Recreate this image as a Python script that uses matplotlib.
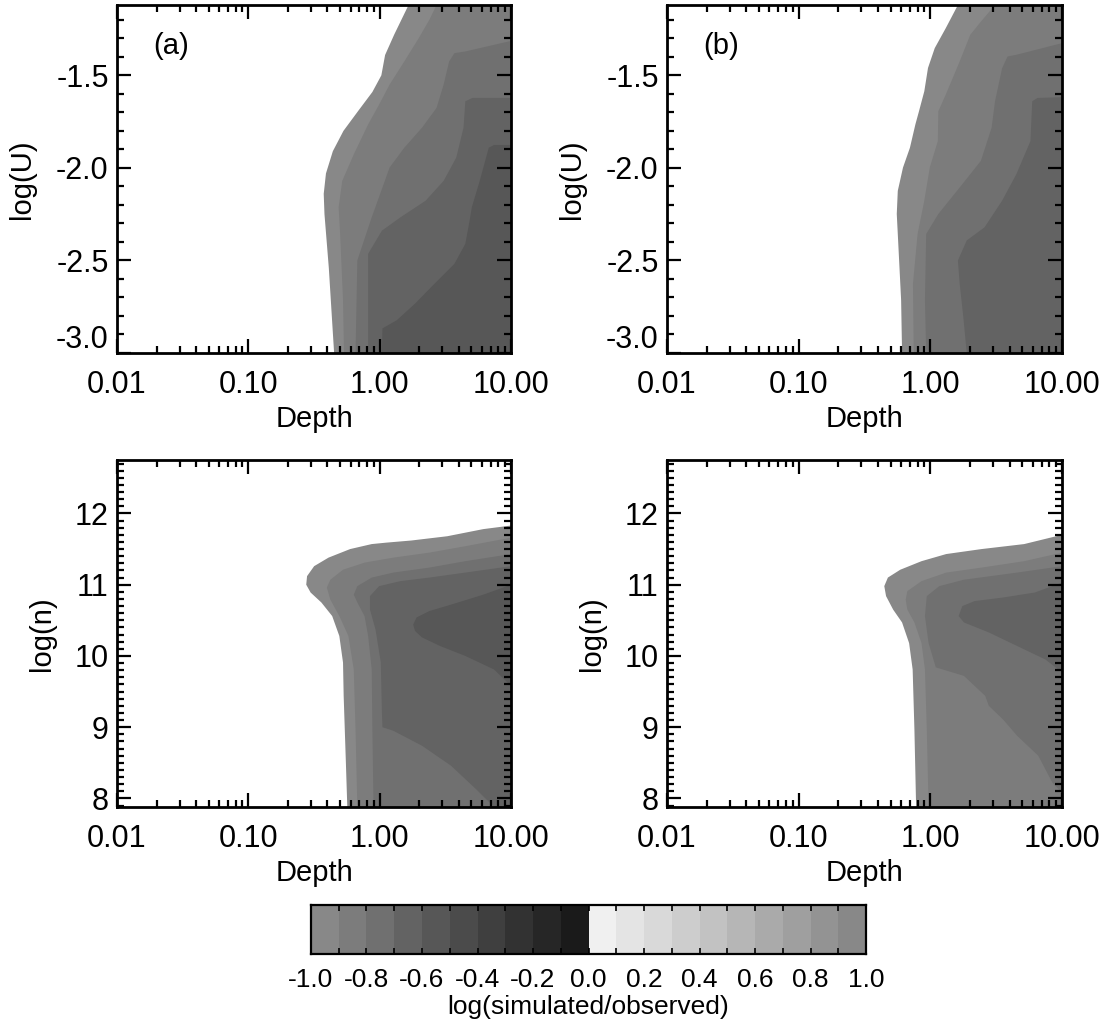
import numpy as np
import matplotlib
matplotlib.use('Agg')
import matplotlib.pyplot as plt
import matplotlib.transforms as mtransforms
from matplotlib.colors import ListedColormap, BoundaryNorm
from matplotlib.ticker import MultipleLocator, LogLocator, NullFormatter

plt.rcParams['font.family'] = ['Liberation Sans', 'DejaVu Sans']

# Шкала цветов: 20 интервалов от -1 до 1
cbar_edges = [-1.0, -0.9, -0.8, -0.7, -0.6, -0.5, -0.4, -0.3, -0.2, -0.1, 0.0,
              0.1, 0.2, 0.3, 0.4, 0.5, 0.6, 0.7, 0.8, 0.9, 1.0]
grey_neg = [136, 124, 112, 99, 87, 75, 63, 50, 38, 26]
grey_pos = [240, 228, 217, 205, 194, 182, 170, 159, 147, 136]
cbar_ticks = [-1.0, -0.8, -0.6, -0.4, -0.2, 0.0, 0.2, 0.4, 0.6, 0.8, 1.0]

# Границы заливок (глубина, параметр), снаружи внутрь
a_depth = [
    [0.45, 0.44, 0.41, 0.38, 0.375, 0.39, 0.44, 0.53, 0.69, 0.88, 1.03, 1.10, 1.29, 1.66],
    [0.535, 0.526, 0.50, 0.487, 0.519, 0.635, 0.817, 0.99, 1.19, 1.54, 1.98, 2.39, 2.71],
    [0.655, 0.676, 0.87, 1.05, 1.19, 1.54, 2.1, 2.71, 3.07, 3.38, 3.71, 4.49, 10.0],
    [0.817, 0.817, 1.04, 1.44, 2.24, 3.07, 3.83, 4.35, 4.49, 5.09, 10.0],
    [1.04, 1.05, 1.35, 1.86, 2.62, 3.71, 4.49, 4.84, 5.03, 5.78, 6.77, 7.43, 10.0],
]
a_logu = [
    [-3.0, -2.89, -2.54, -2.25, -2.14, -2.03, -1.91, -1.80, -1.69, -1.59, -1.50, -1.39, -1.28, -1.12],
    [-3.0, -2.715, -2.357, -2.213, -2.07, -1.927, -1.765, -1.658, -1.55, -1.425, -1.30, -1.20, -1.12],
    [-3.0, -2.5, -2.267, -2.106, -1.998, -1.891, -1.783, -1.676, -1.55, -1.425, -1.38, -1.371, -1.314],
    [-3.0, -2.464, -2.339, -2.267, -2.177, -2.07, -1.944, -1.783, -1.64, -1.622, -1.622],
    [-3.0, -2.867, -2.823, -2.733, -2.625, -2.518, -2.41, -2.285, -2.213, -2.07, -1.891, -1.876, -1.876],
]
a_level = [-1.0, -0.9, -0.8, -0.7, -0.6]

b_depth = [
    [0.61, 0.60, 0.566, 0.556, 0.566, 0.62, 0.70, 0.77, 0.82, 0.90, 0.96, 1.08, 1.31, 1.62],
    [0.748, 0.738, 0.80, 0.90, 0.99, 1.14, 1.15, 1.31, 1.67, 2.01, 2.42, 3.1],
    [0.93, 0.91, 0.93, 1.15, 1.67, 2.42, 2.92, 3.1, 3.51, 3.86, 4.5, 10.0],
    [1.89, 1.78, 1.67, 1.62, 1.89, 2.58, 3.51, 4.5, 5.76, 5.94, 6.53, 10.0],
]
b_logu = [
    [-3.0, -2.715, -2.357, -2.249, -2.124, -1.998, -1.891, -1.765, -1.694, -1.586, -1.46, -1.353, -1.245, -1.12],
    [-3.0, -2.626, -2.357, -2.177, -1.998, -1.855, -1.694, -1.604, -1.425, -1.281, -1.21, -1.12],
    [-3.0, -2.715, -2.357, -2.249, -2.106, -1.962, -1.783, -1.64, -1.461, -1.398, -1.389, -1.326],
    [-3.0, -2.805, -2.625, -2.5, -2.392, -2.321, -2.177, -2.034, -1.855, -1.64, -1.622, -1.618],
]
b_level = [-1.0, -0.9, -0.8, -0.7]

c_depth = [
    [0.567, 0.553, 0.532, 0.526, 0.493, 0.435, 0.36, 0.298, 0.276, 0.28, 0.317, 0.408, 0.596, 0.87, 1.12, 1.74, 3.27, 6.15, 10.0],
    [0.676, 0.655, 0.635, 0.578, 0.493, 0.421, 0.396, 0.421, 0.526, 0.767, 1.27, 2.39, 4.49, 10.0],
    [0.898, 0.88, 0.87, 0.817, 0.767, 0.676, 0.635, 0.676, 0.87, 1.27, 2.39, 4.49, 10.0],
    [7.43, 5.42, 3.49, 2.1, 1.27, 1.05, 1.04, 1.02, 0.93, 0.844, 0.844, 0.99, 1.44, 2.39, 4.49, 10.0],
    [10.0, 7.43, 4.49, 2.88, 2.1, 1.86, 1.8, 1.91, 2.39, 3.49, 6.15, 10.0],
]
c_logn = [
    [7.88, 8.505, 9.44, 9.907, 10.28, 10.56, 10.75, 10.89, 11.0, 11.12, 11.26, 11.38, 11.50, 11.57, 11.59, 11.62, 11.68, 11.78, 11.83],
    [7.88, 8.97, 9.81, 10.28, 10.56, 10.79, 10.96, 11.07, 11.21, 11.31, 11.38, 11.45, 11.54, 11.66],
    [7.88, 8.97, 9.81, 10.28, 10.56, 10.75, 10.86, 10.98, 11.10, 11.17, 11.24, 11.33, 11.43],
    [7.88, 8.13, 8.46, 8.74, 8.95, 9.0, 9.21, 9.91, 10.37, 10.65, 10.84, 10.98, 11.05, 11.10, 11.17, 11.26],
    [9.58, 9.81, 10.0, 10.14, 10.26, 10.35, 10.44, 10.54, 10.63, 10.72, 10.86, 11.0],
]
c_level = [-1.0, -0.9, -0.8, -0.7, -0.6]

d_depth = [
    [0.78, 0.757, 0.734, 0.69, 0.61, 0.522, 0.461, 0.447, 0.476, 0.591, 0.857, 1.32, 2.45, 5.16, 10.0],
    [0.97, 0.94, 0.91, 0.857, 0.757, 0.669, 0.65, 0.669, 0.857, 1.32, 2.45, 5.16, 10.0],
    [10.0, 8.46, 6.6, 4.56, 3.56, 2.78, 2.61, 1.8, 1.1, 0.97, 0.91, 0.94, 1.17, 1.8, 4.56, 10.0],
    [10.0, 7.48, 4.56, 2.78, 1.8, 1.64, 1.75, 2.17, 3.56, 6.21, 10.0],
]
d_logn = [
    [7.88, 8.97, 9.81, 10.18, 10.47, 10.65, 10.84, 10.98, 11.10, 11.21, 11.33, 11.43, 11.50, 11.57, 11.70],
    [7.88, 8.97, 9.81, 10.18, 10.47, 10.65, 10.79, 10.91, 11.05, 11.17, 11.24, 11.33, 11.45],
    [8.08, 8.22, 8.6, 8.88, 9.11, 9.30, 9.44, 9.72, 9.84, 10.18, 10.56, 10.84, 10.98, 11.07, 11.17, 11.26],
    [9.77, 9.95, 10.14, 10.33, 10.47, 10.56, 10.70, 10.77, 10.82, 10.89, 11.03],
]
d_level = [-1.0, -0.9, -0.8, -0.7]

XMIN, XMAX = 0.01, 10.0
U_LIM = (-3.0, -1.12)
N_LIM = (7.88, 12.75)

greys = [g / 255.0 for g in grey_neg + grey_pos]
cmap = ListedColormap([(g, g, g) for g in greys])
norm = BoundaryNorm(cbar_edges, cmap.N)

W, H = 1109, 1022
fig = plt.figure(figsize=(W / 100, H / 100), dpi=100)


def box(left, top, right, bottom):
    return [left / W, 1 - bottom / H, (right - left) / W, (bottom - top) / H]


def panel(rect, depths, values, levels, ylim, ylabel, yticks, tag=None):
    ax = fig.add_axes(rect)
    for xs, ys, lev in zip(depths, values, levels):
        px = list(xs) + [XMAX, XMAX]
        py = list(ys) + [ys[-1], ys[0]]
        ax.fill(px, py, color=cmap(norm(lev + 0.05)), lw=0)
    ax.set_xscale('log')
    ax.set_xlim(XMIN, XMAX)
    ax.set_ylim(*ylim)
    ax.set_xticks([0.01, 0.1, 1, 10])
    ax.set_xticklabels(['0.01', '0.10', '1.00', '10.00'])
    ax.xaxis.set_minor_locator(LogLocator(base=10, subs=np.arange(2, 10)))
    ax.xaxis.set_minor_formatter(NullFormatter())
    ax.set_yticks(yticks[0])
    ax.set_yticklabels(yticks[1])
    ax.yaxis.set_minor_locator(MultipleLocator(0.1))
    ax.tick_params(which='both', direction='in', top=True, right=True, width=1.6,
                   labelsize=22)
    ax.tick_params(which='major', length=10)
    ax.tick_params(which='minor', length=5)
    ax.tick_params(axis='x', pad=12)
    ax.tick_params(axis='y', pad=6)
    for s in ax.spines.values():
        s.set_linewidth(2)
    ax.set_xlabel('Depth', fontsize=21, va='center')
    ax.xaxis.set_label_coords(0.5, -0.19)
    ax.set_ylabel(ylabel, fontsize=21, va='center')
    if tag:
        ax.text(0.093, 0.882, tag, transform=ax.transAxes, fontsize=21,
                ha='left', va='center')
    return ax


u_ticks = ([-3.0, -2.5, -2.0, -1.5], ['-3.0', '-2.5', '-2.0', '-1.5'])
n_ticks = ([8, 9, 10, 11, 12], ['8', '9', '10', '11', '12'])

ax_a = panel(box(117, 5, 511, 353), a_depth, a_logu, a_level, U_LIM, 'log(U)', u_ticks, '(a)')
ax_b = panel(box(667, 5, 1062, 353), b_depth, b_logu, b_level, U_LIM, 'log(U)', u_ticks, '(b)')
ax_c = panel(box(117, 460, 511, 807), c_depth, c_logn, c_level, N_LIM, 'log(n)', n_ticks)
ax_d = panel(box(667, 460, 1062, 807), d_depth, d_logn, d_level, N_LIM, 'log(n)', n_ticks)

for ax in (ax_a, ax_b):
    ax.yaxis.set_label_coords(-0.24, 0.5)
    # нижняя подпись "-3.0" приподнята, как в оригинале
    lab = ax.yaxis.get_major_ticks()[0].label1
    lab.set_transform(lab.get_transform() +
                      mtransforms.ScaledTranslation(0, 0.17, fig.dpi_scale_trans))
for ax in (ax_c, ax_d):
    ax.yaxis.set_label_coords(-0.19, 0.5)

# Цветовая шкала
cax = fig.add_axes(box(311, 905, 866, 954))
centers = [(cbar_edges[i] + cbar_edges[i + 1]) / 2 for i in range(len(cbar_edges) - 1)]
cax.pcolormesh(cbar_edges, [0, 1], [centers], cmap=cmap, norm=norm)
cax.set_xlim(-1, 1)
cax.set_ylim(0, 1)
cax.set_yticks([])
cax.set_xticks(cbar_ticks)
cax.set_xticklabels(['%.1f' % t for t in cbar_ticks], fontsize=19)
cax.xaxis.set_minor_locator(MultipleLocator(0.1))
cax.tick_params(which='both', direction='in', top=True, length=4, width=1.2, pad=10)
for s in cax.spines.values():
    s.set_linewidth(1.6)
cax.set_xlabel('log(simulated/observed)', fontsize=19, labelpad=2)

plt.savefig('out.png', dpi=100)
plt.close()
